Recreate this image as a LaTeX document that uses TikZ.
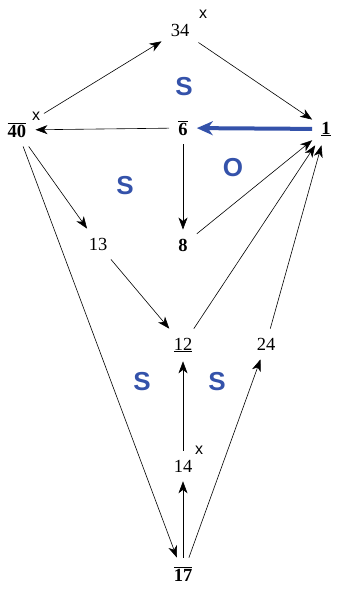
\documentclass[tikz,border=0pt]{standalone}
\usepackage{fontspec}
\setmainfont{Liberation Serif}
\setsansfont{Liberation Sans}
\usetikzlibrary{arrows.meta}
\definecolor{sblue}{RGB}{52,82,170}
\newcommand{\ovl}[1]{$\overline{\hbox{#1}}$}
\newcommand{\unl}[1]{$\underline{\hbox{#1}}$}
\begin{document}
\begin{tikzpicture}[x=1pt,y=-1pt,font=\fontsize{18.5}{21}\selectfont,
	v/.style={inner sep=9pt},
	xs/.style={font=\sffamily\fontsize{16}{17}\selectfont,inner sep=0pt},
	reg/.style={font=\sffamily\bfseries\fontsize{26}{28}\selectfont,text=sblue},
	arr/.style={-{Stealth[length=12pt,width=9pt,inset=3.5pt]},line width=0.6pt}]
	\useasboundingbox (0,0) rectangle (337,589);
	\node[v] (n34) at (180,30) {34};
	\node[v] (n1) at (326,129) {\unl{\textbf{1}}};
	\node[v] (n6) at (183,128) {\ovl{\textbf{6}}};
	\node[v] (n40) at (17,130) {\ovl{\textbf{40}}};
	\node[v] (n13) at (98,244) {13};
	\node[v] (n8) at (183,245) {\textbf{8}};
	\node[v] (n12) at (183,345) {\unl{12}};
	\node[v] (n24) at (266,344) {24};
	\node[v] (n14) at (183,466) {14};
	\node[v] (n17) at (183,574) {\ovl{\textbf{17}}};
	\node[xs] at (203,14) {x};
	\node[xs] at (36,116) {x};
	\node[xs] at (199,450) {x};
	\node[reg] at (184,87) {S};
	\node[reg] at (125,186) {S};
	\node[reg] at (233,168) {O};
	\node[reg] at (142,382) {S};
	\node[reg] at (217,382) {S};
	\draw[arr,shorten <=10pt] (n40)--(n34);
	\draw[arr] (n34)--(n1);
	\draw[arr] (n6)--(n40);
	\draw[-{Stealth[length=16pt,width=14pt,inset=5pt]},line width=4pt,sblue] (n1)--(n6);
	\draw[arr] (n6)--(n8);
	\draw[arr] (n40)--(n13);
	\draw[arr] (n40)--(n17);
	\draw[arr] (n8)--(n1);
	\draw[arr] (n12)--(n1);
	\draw[arr] (n24)--(n1);
	\draw[arr] (n13)--(n12);
	\draw[arr] (n17)--(n14);
	\draw[arr] (n14)--(n12);
	\draw[arr] (n17)--(n24);
\end{tikzpicture}
\end{document}
